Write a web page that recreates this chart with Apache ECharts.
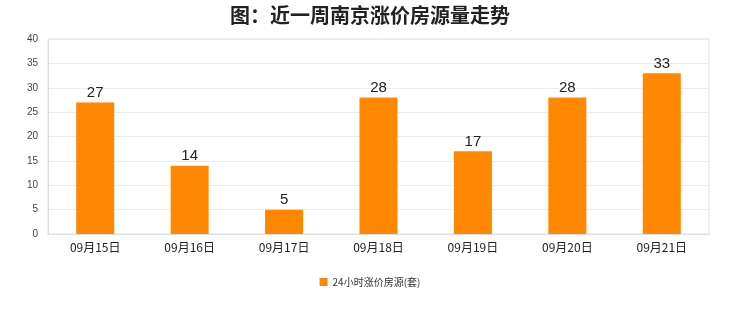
<!DOCTYPE html>
<html><head><meta charset="utf-8">
<script src="https://cdn.jsdelivr.net/npm/echarts@6/dist/echarts.min.js"></script>
<style>html,body{margin:0;padding:0;background:#fff}#c{width:740px;height:312px}</style>
</head><body><div id="c"></div>
<script>
const categories = ['09月15日','09月16日','09月17日','09月18日','09月19日','09月20日','09月21日'];
const values = [27,14,5,28,17,28,33];
const seriesName = '24小时涨价房源(套)';
const titleText = '图：近一周南京涨价房源量走势';
const chart = echarts.init(document.getElementById('c'));
chart.setOption({
  animation:false,
  backgroundColor:'#fff',
  title:{text:titleText,left:'center',top:0,textStyle:{fontSize:20,fontWeight:'bold',color:'#222',fontFamily:'Noto Sans CJK SC'}},
  grid:{left:48,right:31,top:39,bottom:78,show:true,borderColor:'#e0e0e0',borderWidth:1},
  legend:{bottom:20,left:'center',itemWidth:8,itemHeight:8,icon:'rect',textStyle:{fontSize:10,color:'#333',fontFamily:'Noto Sans CJK SC'}},
  xAxis:{type:'category',data:categories,axisLine:{lineStyle:{color:'#ddd'}},axisTick:{show:false},
    axisLabel:{color:'#222',fontSize:12,margin:7,fontFamily:'Noto Sans CJK SC'}},
  yAxis:{type:'value',min:0,max:40,interval:5,axisLine:{show:true,lineStyle:{color:'#ddd'}},
    axisLabel:{color:'#444',fontSize:10,margin:10},splitLine:{lineStyle:{color:'#ebebeb'}}},
  series:[{name:seriesName,type:'bar',data:values,barWidth:38,itemStyle:{color:'#FF8800'},
    label:{show:true,position:'top',fontSize:15,color:'#222',distance:2}}]
});
</script></body></html>
